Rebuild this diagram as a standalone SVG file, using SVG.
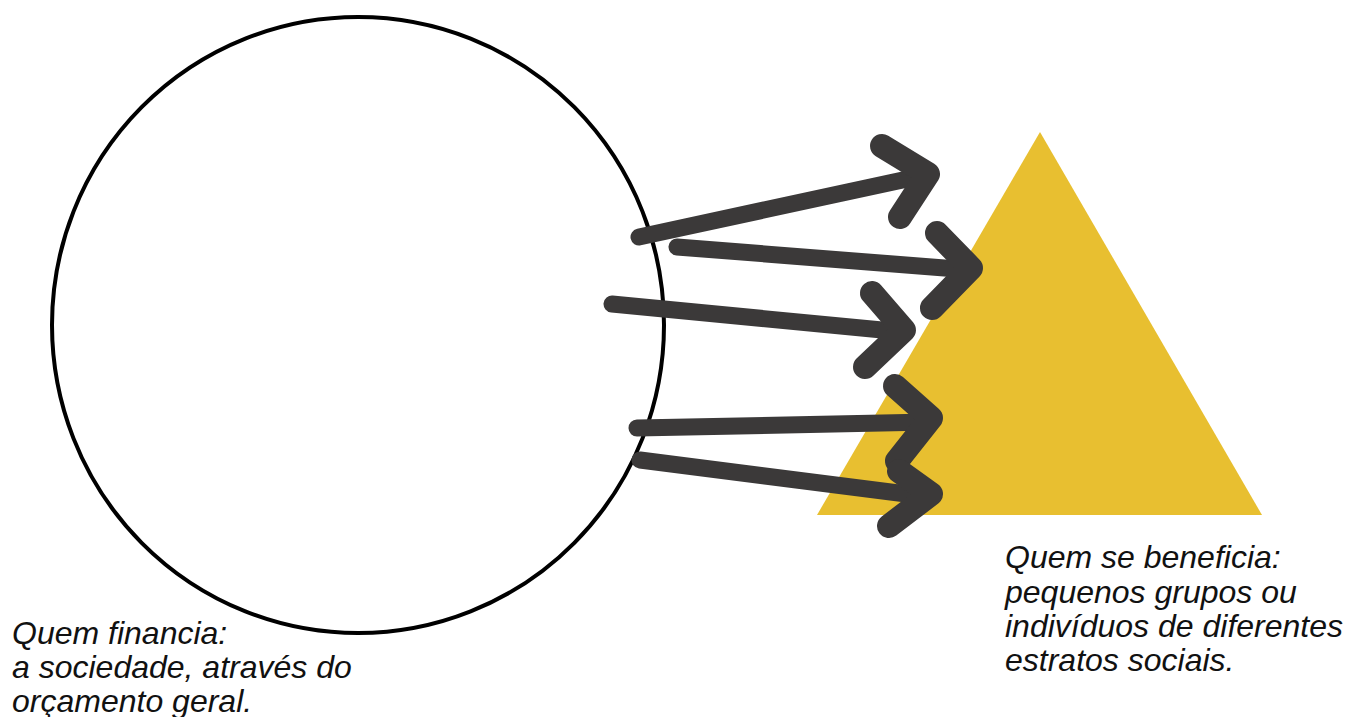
<svg xmlns="http://www.w3.org/2000/svg" width="1348" height="717" viewBox="0 0 1348 717">
<style>
.lbl{font-family:"Liberation Sans",Arial,sans-serif;font-style:italic;font-size:32px;fill:#111}
.shaft{fill:none;stroke:#3b3939;stroke-width:17;stroke-linecap:round;stroke-linejoin:round}
.head{fill:none;stroke:#3b3939;stroke-width:24;stroke-linecap:round;stroke-linejoin:round}
</style>
<rect width="1348" height="717" fill="#fff"/>
<g id="triangle"><polygon points="1040,132 1262,515 817,515" fill="#E8BF30"/></g>
<g id="circle"><ellipse cx="358" cy="325" rx="306" ry="308" fill="none" stroke="#000" stroke-width="4"/></g>
<g id="connectors">
<path class="shaft" d="M639,237 L926,175"/><path class="head" d="M882,146 L928,174 L900,217"/>
<path class="shaft" d="M677,247 L970,270"/><path class="head" d="M937,233 L971,268 L932,308"/>
<path class="shaft" d="M612,304 L903,332"/><path class="head" d="M872,293 L904,330 L865,367"/>
<path class="shaft" d="M637,428 L930,422"/><path class="head" d="M895,386 L931,418 L897,461"/>
<path class="shaft" d="M640,460 L930,497"/><path class="head" d="M899,471 L931,494 L889,526"/>
</g>
<g id="label-left">
<text class="lbl" x="12" y="644">Quem financia:</text>
<text class="lbl" x="12" y="678">a sociedade, através do</text>
<text class="lbl" x="12" y="712">orçamento geral.</text>
</g>
<g id="label-right">
<text class="lbl" x="1005" y="568">Quem se beneficia:</text>
<text class="lbl" x="1005" y="603">pequenos grupos ou</text>
<text class="lbl" x="1005" y="637">indivíduos de diferentes</text>
<text class="lbl" x="1005" y="671">estratos sociais.</text>
</g>
</svg>
